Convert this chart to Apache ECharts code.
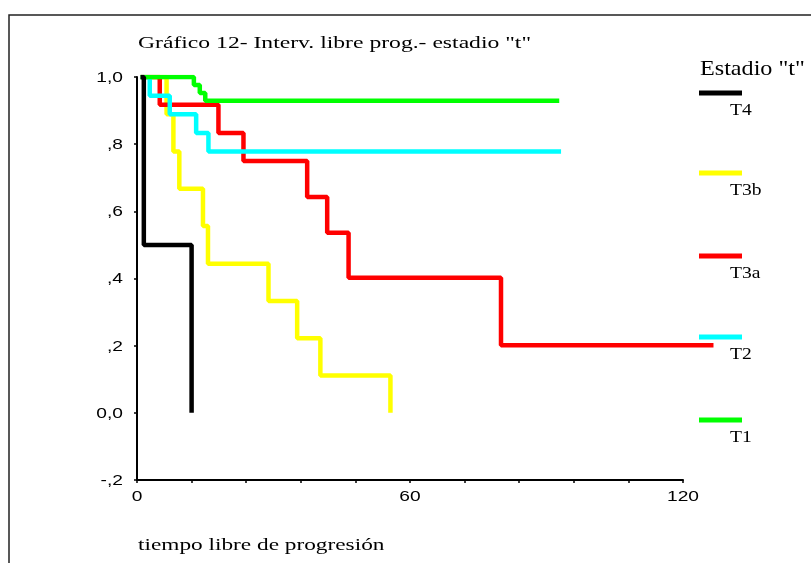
<!DOCTYPE html>
<html>
<head>
<meta charset="utf-8">
<script src="https://cdn.jsdelivr.net/npm/echarts@6/dist/echarts.min.js"></script>
<style>html,body{margin:0;padding:0;background:#fff;}#c{width:811px;height:563px;}</style>
</head>
<body>
<div id="c"></div>
<script>
// ---- data ----
const seriesNames = ['T4', 'T3b', 'T3a', 'T2', 'T1'];
const seriesColors = ['#000000', '#ffff00', '#ff0000', '#00ffff', '#00ff00'];
const t4Time = [0.8, 1.5, 12];
const t4Surv = [1, 0.5, 0];
const t3bTime = [0.8, 6.5, 8, 9.3, 14.5, 15.6, 28.9, 35.2, 40.3, 55.7];
const t3bSurv = [1, 0.889, 0.778, 0.667, 0.556, 0.444, 0.333, 0.222, 0.111, 0];
const t3aTime = [0.8, 5, 17.9, 23.4, 37.4, 41.8, 46.5, 80, 126.7];
const t3aSurv = [1, 0.917, 0.833, 0.75, 0.643, 0.536, 0.402, 0.201, 0.201];
const t2Time = [0.8, 2.8, 7.2, 13, 15.7, 93.2];
const t2Surv = [1, 0.944, 0.889, 0.833, 0.778, 0.778];
const t1Time = [0.8, 12.5, 13.8, 15, 92.8];
const t1Surv = [1, 0.976, 0.952, 0.929, 0.929];
const yTickValues = [-0.2, 0, 0.2, 0.4, 0.6, 0.8, 1.0];
const yTickLabels = ['-,2', '0,0', ',2', ',4', ',6', ',8', '1,0'];
const xTickValues = [0, 60, 120];
const xTickLabels = ['0', '60', '120'];
const titleText = 'Gráfico 12- Interv. libre prog.- estadio "t"';
const xAxisTitle = 'tiempo libre de progresión';
const legendTitle = 'Estadio "t"';

// ---- chart ----
const chart = echarts.init(document.getElementById('c'), null, {renderer: 'canvas'});
const pairs = (t, s) => t.map((v, i) => [v, s[i]]);
const allData = [pairs(t4Time, t4Surv), pairs(t3bTime, t3bSurv), pairs(t3aTime, t3aSurv), pairs(t2Time, t2Surv), pairs(t1Time, t1Surv)];
const drawOrder = [1, 2, 3, 4, 0];
const serif = '"Liberation Serif", "Times New Roman", serif';
const sans = '"Liberation Sans", Arial, sans-serif';
const stretch = 1.37;      // the reference text is horizontally stretched
const legStretch = 1.15;

// plot geometry: x 0..120 spans 137..683 px
const plotLeft = 137, plotRight = 683, plotTop = 77, plotBottom = 480;
const xMax = 120, xMaxExt = 132;
const pxPerUnit = (plotRight - plotLeft) / xMax;

function stretchedText(x, y, text, font, align, sx) {
  return {type: 'text', x: x, y: y, scaleX: sx, scaleY: 1, silent: true,
    style: {x: 0, y: 0, text: text, font: font, fill: '#000', align: align, verticalAlign: 'middle'}};
}

const legendY = [93, 173, 256, 337, 420];
const graphics = [
  {type: 'rect', shape: {x: 9, y: 15, width: 1000, height: 1000}, style: {fill: 'none', stroke: '#222', lineWidth: 1.5}, silent: true},
  stretchedText(138, 44, titleText, '17px ' + serif, 'left', 1.39),
  stretchedText(138, 546, xAxisTitle, '17px ' + serif, 'left', stretch),
  stretchedText(700, 69, legendTitle, '21px ' + serif, 'left', legStretch)
];
seriesNames.forEach((n, i) => {
  graphics.push({type: 'line', shape: {x1: 699, y1: legendY[i], x2: 742, y2: legendY[i]}, style: {stroke: seriesColors[i], lineWidth: 5}});
  graphics.push(stretchedText(730, legendY[i] + 18, n, '17px ' + serif, 'left', legStretch));
});

const option = {
  animation: false,
  backgroundColor: '#fff',
  grid: [
    {left: plotLeft, width: plotRight - plotLeft, top: plotTop, height: plotBottom - plotTop, containLabel: false},
    {left: plotLeft, width: xMaxExt * pxPerUnit, top: plotTop, height: plotBottom - plotTop, containLabel: false}
  ],
  xAxis: [{
    gridIndex: 0, type: 'value', min: 0, max: xMax, interval: 12,
    axisLine: {onZero: false, lineStyle: {color: '#000', width: 2}},
    axisTick: {show: true, length: 3, lineStyle: {color: '#000', width: 1.5}},
    splitLine: {show: false},
    axisLabel: {show: false}
  }, {
    gridIndex: 1, type: 'value', min: 0, max: xMaxExt, show: false
  }],
  yAxis: [{
    gridIndex: 0, type: 'value', min: -0.2, max: 1.0, interval: 0.2,
    axisLine: {show: true, onZero: false, lineStyle: {color: '#000', width: 2}},
    axisTick: {show: true, length: 3, lineStyle: {color: '#000', width: 1.5}},
    splitLine: {show: false},
    axisLabel: {show: false}
  }, {
    gridIndex: 1, type: 'value', min: -0.2, max: 1.0, show: false
  }],
  series: drawOrder.map(i => ({
    name: seriesNames[i], type: 'line', step: 'end', symbol: 'none',
    xAxisIndex: 1, yAxisIndex: 1,
    data: allData[i],
    lineStyle: {color: seriesColors[i], width: 4.5}, itemStyle: {color: seriesColors[i]},
    z: 2
  })),
  graphic: graphics
};
chart.setOption(option);

// tick labels, placed through the axis scales, drawn with the reference's horizontal stretch
const tickGraphics = [];
yTickValues.forEach((v, i) => {
  const p = chart.convertToPixel({xAxisIndex: 0, yAxisIndex: 0}, [0, v]);
  tickGraphics.push(stretchedText(p[0] - 14, p[1] + 1, yTickLabels[i], '14px ' + sans, 'right', stretch));
});
xTickValues.forEach((v, i) => {
  const p = chart.convertToPixel({xAxisIndex: 0, yAxisIndex: 0}, [v, -0.2]);
  tickGraphics.push(stretchedText(p[0], p[1] + 17, xTickLabels[i], '14px ' + sans, 'center', stretch));
});
chart.setOption({graphic: graphics.concat(tickGraphics)});
</script>
</body>
</html>
